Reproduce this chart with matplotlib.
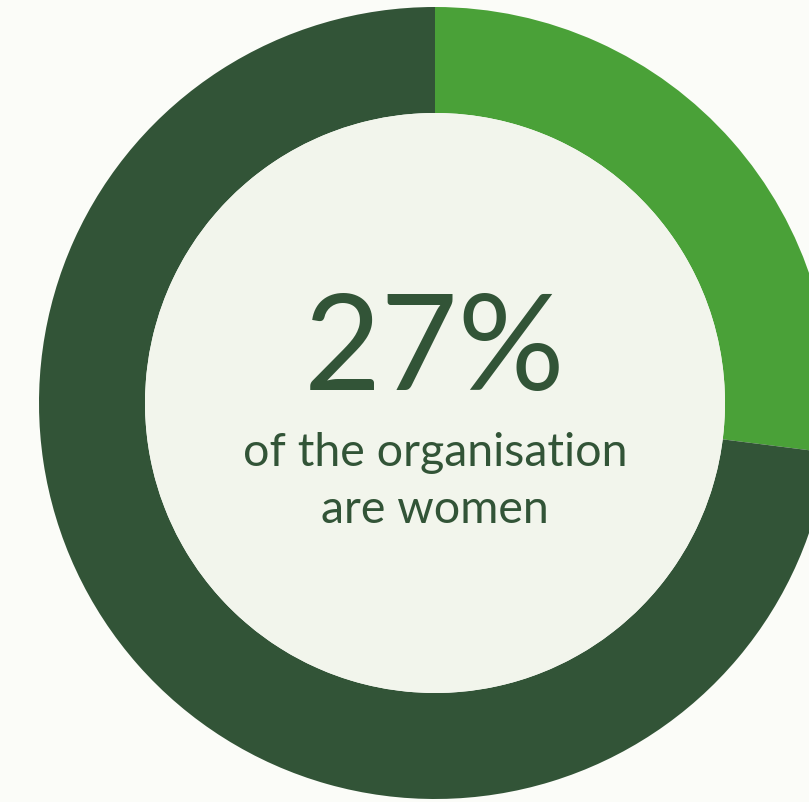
import matplotlib.pyplot as plt
from matplotlib.patches import Circle

# Share of women in the organisation
labels = ["Women", "Men"]
shares = [27, 73]
colors = ["#4AA138", "#325437"]

headline = "27%"
caption_lines = ["of the organisation", "are women"]

plt.rcParams['font.family'] = ['Lato', 'DejaVu Sans']

fig = plt.figure(figsize=(8.09, 8.03), dpi=100, facecolor="#FBFCF8")
ax = fig.add_axes([0, 0, 1, 1])

cx, cy = 435, 803 - 404
outer, inner = 396, 290

ax.pie(shares, colors=colors, startangle=90, counterclock=False,
       center=(cx, cy), radius=outer, frame=True,
       wedgeprops=dict(width=outer - inner, edgecolor='none'))
ax.add_patch(Circle((cx, cy), inner, facecolor="#F2F5EC", edgecolor='none', zorder=3))
ax.set_xlim(0, 809)
ax.set_ylim(0, 803)
ax.set_aspect('equal')
ax.axis('off')

ax.text(cx, 803 - 390, headline, ha='center', va='baseline', fontsize=96,
        fontweight='normal', color="#325437", zorder=4)
for i, line in enumerate(caption_lines):
    ax.text(cx, 803 - 466 - i * 57, line, ha='center', va='baseline', fontsize=33.5,
            fontweight='normal', color="#325437", zorder=4)

fig.savefig("out.png", dpi=100, facecolor=fig.get_facecolor())
